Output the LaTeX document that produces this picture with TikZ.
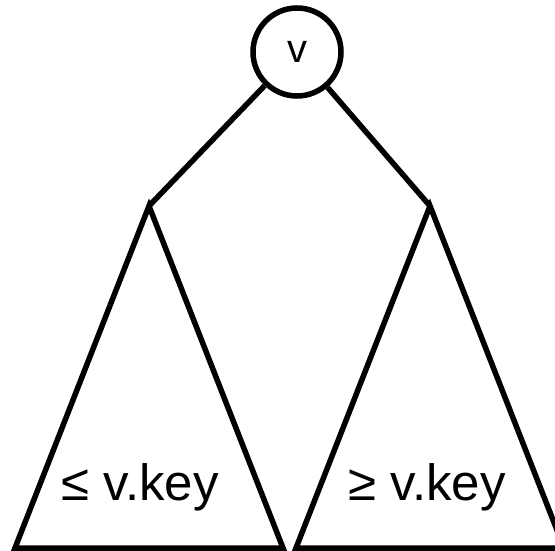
\documentclass[tikz,border=0pt]{standalone}
\usepackage{fontspec}
\setmainfont{Liberation Sans}
\begin{document}
\begin{tikzpicture}[x=1pt,y=-1pt,line width=5.5pt,
  treenode/.style={circle,draw,minimum size=88pt,inner sep=0pt,font=\fontsize{40}{40}\selectfont},
  sub/.style={draw,line join=miter,miter limit=20},
  keylabel/.style={font=\fontsize{51}{51}\selectfont,anchor=base,inner sep=0pt}]
\useasboundingbox (0,0) rectangle (555,551);
\node[treenode] (v) at (297,52) {v};
\coordinate (la) at (149,206);
\coordinate (lbl) at (15,548);
\coordinate (lbr) at (283,548);
\coordinate (ra) at (430,206);
\coordinate (rbl) at (296,548);
\coordinate (rbr) at (564,548);
\draw[sub] (la) -- (lbl) -- (lbr) -- cycle;
\draw[sub] (ra) -- (rbl) -- (rbr) -- cycle;
\draw (v) -- (la);
\draw (v) -- (ra);
\node[keylabel] (lk) at (140,500) {≤ v.key};
\node[keylabel] (rk) at (427,500) {≥ v.key};
\end{tikzpicture}
\end{document}
